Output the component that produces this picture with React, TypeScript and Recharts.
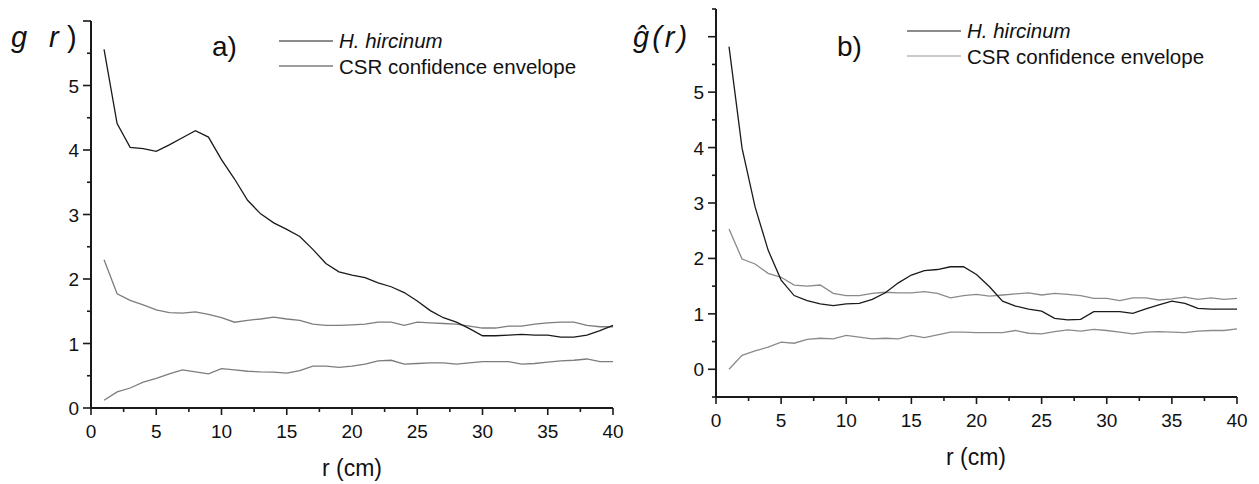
import * as React from "react"
import { LineChart, Line, XAxis, YAxis } from "recharts"

// distance classes (cm)
const radius = [
  1, 2, 3, 4, 5, 6, 7, 8, 9, 10, 11, 12, 13, 14, 15, 16, 17, 18, 19, 20,
  21, 22, 23, 24, 25, 26, 27, 28, 29, 30, 31, 32, 33, 34, 35, 36, 37, 38, 39, 40,
]

// panel a) g(r)
const aObserved = [
  5.56, 4.41, 4.04, 4.02, 3.98, 4.08, 4.19, 4.3, 4.2, 3.85, 3.55, 3.22, 3.01, 2.87, 2.77, 2.66, 2.46, 2.24, 2.11, 2.06,
  2.02, 1.94, 1.88, 1.79, 1.66, 1.51, 1.4, 1.33, 1.23, 1.12, 1.12, 1.13, 1.14, 1.13, 1.13, 1.1, 1.1, 1.13, 1.2, 1.28,
]
const aUpper = [
  2.3, 1.77, 1.67, 1.6, 1.52, 1.48, 1.47, 1.49, 1.45, 1.4, 1.33, 1.36, 1.38, 1.41, 1.38, 1.36, 1.3, 1.28, 1.28, 1.29,
  1.3, 1.33, 1.33, 1.28, 1.33, 1.32, 1.31, 1.3, 1.27, 1.24, 1.24, 1.27, 1.27, 1.3, 1.32, 1.33, 1.33, 1.28, 1.26, 1.26,
]
const aLower = [
  0.12, 0.25, 0.31, 0.4, 0.46, 0.53, 0.59, 0.56, 0.53, 0.61, 0.59, 0.57, 0.56, 0.555, 0.54, 0.58, 0.65, 0.65, 0.63, 0.65,
  0.68, 0.73, 0.74, 0.68, 0.69, 0.7, 0.7, 0.68, 0.7, 0.72, 0.72, 0.72, 0.68, 0.69, 0.71, 0.73, 0.74, 0.76, 0.72, 0.72,
]

// panel b) g-hat(r)
const bObserved = [
  5.82, 3.99, 2.93, 2.15, 1.61, 1.33, 1.24, 1.18, 1.15, 1.18, 1.19, 1.26, 1.38, 1.56, 1.7, 1.78, 1.8, 1.85, 1.85, 1.71,
  1.49, 1.23, 1.14, 1.085, 1.05, 0.92, 0.89, 0.9, 1.04, 1.04, 1.04, 1.01, 1.09, 1.16, 1.23, 1.19, 1.1, 1.085, 1.085, 1.085,
]
const bUpper = [
  2.53, 1.99, 1.9, 1.73, 1.66, 1.52, 1.5, 1.52, 1.37, 1.33, 1.33, 1.37, 1.39, 1.38, 1.38, 1.4, 1.37, 1.29, 1.33, 1.35,
  1.32, 1.34, 1.36, 1.38, 1.34, 1.37, 1.35, 1.33, 1.28, 1.28, 1.24, 1.29, 1.29, 1.25, 1.27, 1.3, 1.26, 1.29, 1.26, 1.28,
]
const bLower = [
  0.0, 0.25, 0.33, 0.4, 0.49, 0.47, 0.54, 0.56, 0.55, 0.61, 0.58, 0.55, 0.56, 0.55, 0.61, 0.57, 0.62, 0.67, 0.67, 0.66,
  0.66, 0.66, 0.7, 0.65, 0.64, 0.68, 0.71, 0.69, 0.72, 0.7, 0.67, 0.64, 0.67, 0.68, 0.67, 0.66, 0.69, 0.7, 0.7, 0.73,
]

const xTicks = [0, 2.5, 5, 7.5, 10, 12.5, 15, 17.5, 20, 22.5, 25, 27.5, 30, 32.5, 35, 37.5, 40]
const aYTicks = [0, 0.5, 1, 1.5, 2, 2.5, 3, 3.5, 4, 4.5, 5, 5.5, 6]
const bYTicks = [-0.5, 0, 0.5, 1, 1.5, 2, 2.5, 3, 3.5, 4, 4.5, 5, 5.5, 6, 6.5]

const FONT = "Arial, 'Liberation Sans', sans-serif"
const INK = "#1a1a1a"

const buildRows = (obs: number[], hi: number[], lo: number[]) =>
  radius.map((r, i) => ({ r, obs: obs[i], hi: hi[i], lo: lo[i] }))

const aRows = buildRows(aObserved, aUpper, aLower)
const bRows = buildRows(bObserved, bUpper, bLower)

function XTick({ x, y, payload }: any) {
  const v = payload.value
  const major = v % 5 === 0
  return (
    <g>
      <line x1={x} x2={x} y1={y} y2={y + (major ? 7 : 4)} stroke={INK} strokeWidth={1.6} />
      {major && (
        <text x={x} y={y + 30} textAnchor="middle" fontSize={19} fontFamily={FONT} fill="#111">
          {v}
        </text>
      )}
    </g>
  )
}

function makeYTick(maxLabel: number) {
  return function YTick({ x, y, payload }: any) {
    const v = payload.value
    const major = Number.isInteger(v)
    return (
      <g>
        <line x1={x - (major ? 8 : 4)} x2={x} y1={y} y2={y} stroke={INK} strokeWidth={1.6} />
        {major && v >= 0 && v <= maxLabel && (
          <text x={x - 12} y={y + 7} textAnchor="end" fontSize={19} fontFamily={FONT} fill="#111">
            {v}
          </text>
        )}
      </g>
    )
  }
}

// legend drawn in page coordinates
function LegendBox({ x, y, envColor }: { x: number; y: number; envColor: string }) {
  return (
    <g transform={`translate(${x},${y})`}>
      <line x1={0} x2={54} y1={13} y2={13} stroke={INK} strokeWidth={1.2} />
      <line x1={0} x2={54} y1={38} y2={38} stroke={envColor} strokeWidth={1.4} />
      <text x={60} y={20} fontSize={20.5} fontStyle="italic" fontFamily={FONT} fill="#111">
        H. hircinum
      </text>
      <text x={60} y={45.5} fontSize={20.5} fontFamily={FONT} fill="#111">
        CSR confidence envelope
      </text>
    </g>
  )
}

type PanelProps = {
  rows: any[]
  width: number
  margin: { top: number; right: number; bottom: number; left: number }
  yWidth: number
  yDomain: [number, number]
  yTicks: number[]
  envColor: string
}

function Panel({ rows, width, margin, yWidth, yDomain, yTicks, envColor }: PanelProps) {
  return (
    <LineChart width={width} height={484} data={rows} margin={margin}>
      <XAxis
        dataKey="r"
        type="number"
        domain={[0, 40]}
        ticks={xTicks}
        interval={0}
        tickSize={0}
        tickMargin={0}
        tickLine={false}
        height={40}
        axisLine={{ stroke: INK, strokeWidth: 2 }}
        tick={<XTick />}
      />
      <YAxis
        type="number"
        domain={yDomain}
        ticks={yTicks}
        interval={0}
        tickSize={0}
        tickMargin={0}
        tickLine={false}
        width={yWidth}
        axisLine={{ stroke: INK, strokeWidth: 2 }}
        tick={makeYTick(5)}
        allowDataOverflow
      />
      <Line dataKey="hi" stroke={envColor} strokeWidth={1.3} dot={false} isAnimationActive={false} />
      <Line dataKey="lo" stroke={envColor} strokeWidth={1.3} dot={false} isAnimationActive={false} />
      <Line dataKey="obs" stroke={INK} strokeWidth={1.3} dot={false} isAnimationActive={false} />
    </LineChart>
  )
}

export default function App() {
  return (
    <div style={{ position: "absolute", left: 0, top: 0, width: 1259, height: 484, background: "#fff", fontFamily: FONT }}>
      <div style={{ position: "absolute", left: 0, top: 0 }}>
        <Panel
          rows={aRows}
          width={630}
          margin={{ top: 21, right: 17, bottom: 36, left: 0 }}
          yWidth={91}
          yDomain={[0, 6]}
          yTicks={aYTicks}
          envColor="#7d7d7d"
        />
      </div>
      <div style={{ position: "absolute", left: 630, top: 0 }}>
        <Panel
          rows={bRows}
          width={629}
          margin={{ top: 9, right: 22, bottom: 47, left: 0 }}
          yWidth={86}
          yDomain={[-0.5, 6.5]}
          yTicks={bYTicks}
          envColor="#8a8a8a"
        />
      </div>
      <svg width={1259} height={484} style={{ position: "absolute", left: 0, top: 0, pointerEvents: "none" }}>
        <LegendBox x={279} y={28} envColor="#7d7d7d" />
        <LegendBox x={907} y={18} envColor="#b8b8b8" />
        <text fontSize={29} fontStyle="italic" fontFamily={FONT} fill="#111" y={47}>
          <tspan x={11}>g</tspan>
          <tspan x={49}>r</tspan>
          <tspan x={67} fontStyle="normal">)</tspan>
        </text>
        <text x={212} y={56} fontSize={28} fontFamily={FONT} fill="#111">a)</text>
        <text x={633} y={47} fontSize={29} fontStyle="italic" fontFamily={FONT} fill="#111" letterSpacing={3}>
          ĝ(r)
        </text>
        <text x={837} y={56} fontSize={28} fontFamily={FONT} fill="#111">b)</text>
        <text x={352} y={476} textAnchor="middle" fontSize={23} fontFamily={FONT} fill="#111">r (cm)</text>
        <text x={976} y={465} textAnchor="middle" fontSize={23} fontFamily={FONT} fill="#111">r (cm)</text>
      </svg>
    </div>
  )
}
